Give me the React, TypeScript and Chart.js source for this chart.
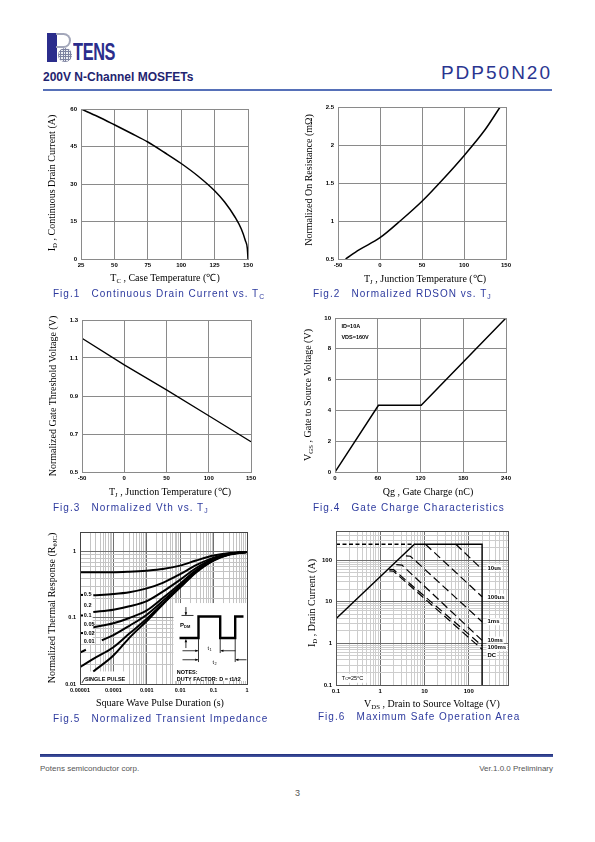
import React, { useEffect, useRef } from 'react';
import { Chart, registerables } from 'chart.js';
Chart.register(...registerables);

// ---------------- data ----------------
// Fig.1 Continuous drain current vs case temperature
const fig1Temp = [25, 37.5, 50, 62.5, 75, 87.5, 100, 112.5, 125, 132.5, 140, 145, 148, 149.5, 150];
const fig1Current = [60, 57, 53.7, 50.3, 46.8, 42.6, 38.2, 33.2, 27.3, 22.8, 17, 12, 7.4, 4.2, 0];

// Fig.2 Normalized RDS(on) vs junction temperature
const fig2Temp = [-41, -25, 0, 25, 50, 75, 100, 125, 143];
const fig2Rds = [0.5, 0.62, 0.78, 1.01, 1.26, 1.55, 1.86, 2.2, 2.5];

// Fig.3 Normalized Vth vs junction temperature
const fig3Temp = [-50, 0, 50, 100, 150];
const fig3Vth = [1.204, 1.064, 0.932, 0.796, 0.659];

// Fig.4 Gate charge
const fig4Qg = [0, 61, 121, 240];
const fig4Vgs = [0, 4.33, 4.33, 10];
const fig4Notes = ['ID=10A', 'VDS=160V'];

// Fig.5 Transient thermal impedance
const fig5T = [1e-5, 2.5e-5, 1e-4, 3e-4, 1e-3, 3e-3, 1e-2, 3e-2, 0.1, 0.3, 1];
const fig5D05 = [0.49, 0.49, 0.49, 0.5, 0.52, 0.55, 0.62, 0.74, 0.88, 0.96, 1];
const fig5D02 = [null, 0.22, 0.23, 0.245, 0.28, 0.34, 0.46, 0.63, 0.82, 0.94, 1];
const fig5D01 = [null, 0.123, 0.133, 0.15, 0.18, 0.25, 0.38, 0.57, 0.79, 0.93, 1];
const fig5D005 = [null, 0.072, 0.083, 0.1, 0.13, 0.2, 0.33, 0.53, 0.77, 0.93, 1];
const fig5TD002 = [1e-5, 1.5e-5, 2e-5, 4.5e-5, 1e-4, 3e-4, 1e-3, 3e-3, 1e-2, 3e-2, 0.1, 0.3, 1];
const fig5D002 = [0.03, 0.033, null, 0.046, 0.055, 0.076, 0.112, 0.18, 0.31, 0.51, 0.76, 0.92, 1];
const fig5D001 = [0.018, 0.024, 0.036, 0.058, 0.097, 0.165, 0.295, 0.5, 0.75, 0.92, 1];
const fig5Single = [null, 0.0155, 0.027, 0.05, 0.09, 0.16, 0.29, 0.49, 0.74, 0.91, 1];
const fig5DutyLabels = ['0.5', '0.2', '0.1', '0.05', '0.02', '0.01'];
const fig5DutyLabelY = [0.223, 0.153, 0.109, 0.081, 0.059, 0.044];

// Fig.6 Safe operating area
const fig6LimitX = [0.1, 5.9, 200, 200];
const fig6LimitY = [3.9, 240, 240, 0.1];
const fig6PulseX = [0.1, 5.9];
const fig6PulseY = [240, 240];
const fig6T10usX = [51, 200];
const fig6T10usY = [240, 60];
const fig6T100usX = [10.5, 200];
const fig6T100usY = [240, 13.2];
const fig6T1msX = [3.8, 4.8, 200];
const fig6T1msY = [126, 124, 3.3];
const fig6T10msX = [2.3, 3.1, 200];
const fig6T10msY = [78, 76, 1.18];
const fig6T100msX = [1.6, 2.0, 200];
const fig6T100msY = [60, 59, 0.88];
const fig6DcX = [1.6, 2.0, 200];
const fig6DcY = [55, 54, 0.72];
const fig6Labels = ['10us', '100us', '1ms', '10ms', '100ms', 'DC'];
const fig6LabelY = [65, 12.8, 3.3, 1.2, 0.8, 0.53];

// ---------------- helpers ----------------
const FONT_SANS = '"Liberation Sans", Arial, Helvetica, sans-serif';
const FONT_SERIF = '"Liberation Serif", "Times New Roman", serif';
const CAPTION_BLUE = '#2d3a9e';
const ML = 40, MT = 8, MR = 14, MB = 22;

function isPow10(v: number) {
  const l = Math.log10(v);
  return Math.abs(l - Math.round(l)) < 1e-6;
}
function fmtPow(v: number) {
  const e = Math.round(Math.log10(v));
  return e >= 0 ? String(Math.pow(10, e)) : Math.pow(10, e).toFixed(-e);
}
function logTicks(min: number, max: number) {
  const out: number[] = [];
  for (let e = Math.floor(Math.log10(min)); e <= Math.ceil(Math.log10(max)); e++) {
    for (let m = 1; m <= 9; m++) {
      const v = +(m * Math.pow(10, e)).toPrecision(6);
      if (v >= min * 0.9999 && v <= max * 1.0001) out.push(v);
    }
  }
  return out;
}

type AxisSpec = { type: 'linear' | 'logarithmic'; min: number; max: number; step?: number };
type SeriesSpec = { xs: number[]; ys: (number | null)[]; width: number; dash?: number[]; smooth?: boolean };
type PlotSpec = {
  plot: [number, number, number, number];
  x: AxisSpec;
  y: AxisSpec;
  series: SeriesSpec[];
  gridMajor: string;
  gridMinor: string;
  gridWidth: number;
  box: string;
  tickSize: number;
  before?: (c: any) => void;
  after?: (c: any) => void;
};

function buildScale(a: AxisSpec, spec: PlotSpec, isX: boolean) {
  const log = a.type === 'logarithmic';
  const s: any = {
    type: a.type,
    min: a.min,
    max: a.max,
    border: { display: false },
    grid: {
      drawTicks: false,
      color: (ctx: any) => (!log || !ctx.tick || isPow10(ctx.tick.value) ? spec.gridMajor : spec.gridMinor),
      lineWidth: spec.gridWidth,
    },
    ticks: {
      autoSkip: false,
      maxRotation: 0,
      minRotation: 0,
      padding: isX ? 3 : 4,
      color: '#000',
      font: { family: FONT_SANS, size: spec.tickSize, weight: 'bold' },
      callback: (v: any) =>
        log ? (isPow10(Number(v)) ? fmtPow(Number(v)) : '') : String(+Number(v).toFixed(3)),
    },
    afterFit: (sc: any) => {
      if (isX) sc.height = MB;
      else sc.width = ML;
    },
  };
  if (!log) s.ticks.stepSize = a.step;
  else
    s.afterBuildTicks = (sc: any) => {
      sc.ticks = logTicks(a.min, a.max).map((v) => ({ value: v }));
    };
  return s;
}

function PlotCanvas({ spec }: { spec: PlotSpec }) {
  const ref = useRef<HTMLCanvasElement>(null);
  const [L, T, R, B] = spec.plot;
  const W = R - L + ML + MR;
  const H = B - T + MT + MB;
  useEffect(() => {
    const chart = new Chart(ref.current as HTMLCanvasElement, {
      type: 'line',
      data: {
        datasets: spec.series.map((s) => ({
          data: s.xs.map((x, i) => ({ x, y: s.ys[i] })) as any,
          borderColor: '#000',
          borderWidth: s.width,
          borderDash: s.dash || [],
          pointRadius: 0,
          fill: false,
          tension: 0,
          cubicInterpolationMode: s.smooth ? 'monotone' : 'default',
          spanGaps: false,
        })),
      },
      options: {
        animation: false,
        responsive: false,
        devicePixelRatio: 1,
        events: [],
        layout: { padding: { top: MT, right: MR, left: 0, bottom: 0 } },
        plugins: { legend: { display: false }, tooltip: { enabled: false } },
        scales: { x: buildScale(spec.x, spec, true), y: buildScale(spec.y, spec, false) },
      } as any,
      plugins: [
        {
          id: 'extras',
          beforeDatasetsDraw(c: any) {
            if (spec.before) spec.before(c);
          },
          afterDatasetsDraw(c: any) {
            if (spec.after) spec.after(c);
          },
          afterDraw(c: any) {
            const { left, top, right, bottom } = c.chartArea;
            const ctx = c.ctx;
            ctx.save();
            ctx.strokeStyle = spec.box;
            ctx.lineWidth = 1;
            ctx.strokeRect(left + 0.5, top + 0.5, right - left, bottom - top);
            ctx.restore();
          },
        },
      ],
    });
    return () => chart.destroy();
  }, []);
  return (
    <canvas
      ref={ref}
      width={W}
      height={H}
      style={{ position: 'absolute', left: L - ML, top: T - MT, width: W, height: H }}
    />
  );
}

function text(ctx: any, s: string, x: number, y: number, size: number, align: string = 'left', bold = true) {
  ctx.save();
  ctx.fillStyle = '#000';
  ctx.font = `${bold ? 'bold ' : ''}${size}px ${FONT_SANS}`;
  ctx.textAlign = align;
  ctx.textBaseline = 'middle';
  ctx.fillText(s, x, y);
  ctx.restore();
}

function arrow(ctx: any, x1: number, y1: number, x2: number, y2: number) {
  ctx.beginPath();
  ctx.moveTo(x1, y1);
  ctx.lineTo(x2, y2);
  ctx.stroke();
  const a = Math.atan2(y2 - y1, x2 - x1);
  ctx.beginPath();
  ctx.moveTo(x2, y2);
  ctx.lineTo(x2 - 3 * Math.cos(a - 0.45), y2 - 3 * Math.sin(a - 0.45));
  ctx.lineTo(x2 - 3 * Math.cos(a + 0.45), y2 - 3 * Math.sin(a + 0.45));
  ctx.closePath();
  ctx.fill();
}

// ---------------- chart specs ----------------
const linGrid = { gridMajor: '#8a8a8a', gridMinor: '#8a8a8a', gridWidth: 1, box: '#8a8a8a', tickSize: 6 };

const spec1: PlotSpec = {
  plot: [81, 109, 248, 259],
  x: { type: 'linear', min: 25, max: 150, step: 25 },
  y: { type: 'linear', min: 0, max: 60, step: 15 },
  series: [{ xs: fig1Temp, ys: fig1Current, width: 1.5, smooth: true }],
  ...linGrid,
};

const spec2: PlotSpec = {
  plot: [338, 107, 506, 259],
  x: { type: 'linear', min: -50, max: 150, step: 50 },
  y: { type: 'linear', min: 0.5, max: 2.5, step: 0.5 },
  series: [{ xs: fig2Temp, ys: fig2Rds, width: 1.5, smooth: true }],
  ...linGrid,
};

const spec3: PlotSpec = {
  plot: [82, 320, 251, 472],
  x: { type: 'linear', min: -50, max: 150, step: 50 },
  y: { type: 'linear', min: 0.5, max: 1.3, step: 0.2 },
  series: [{ xs: fig3Temp, ys: fig3Vth, width: 1.3 }],
  ...linGrid,
};

const spec4: PlotSpec = {
  plot: [335, 318, 506, 472],
  x: { type: 'linear', min: 0, max: 240, step: 60 },
  y: { type: 'linear', min: 0, max: 10, step: 2 },
  series: [{ xs: fig4Qg, ys: fig4Vgs, width: 1.5 }],
  ...linGrid,
  after: (c: any) => {
    const xs = c.scales.x, ys = c.scales.y;
    text(c.ctx, fig4Notes[0], xs.getPixelForValue(9), ys.getPixelForValue(9.45), 5.5);
    text(c.ctx, fig4Notes[1], xs.getPixelForValue(9), ys.getPixelForValue(8.75), 5.5);
  },
};

const spec5: PlotSpec = {
  plot: [80, 532, 247, 684],
  x: { type: 'logarithmic', min: 1e-5, max: 1 },
  y: { type: 'logarithmic', min: 0.01, max: 2 },
  series: [
    { xs: fig5T, ys: fig5D05, width: 2, smooth: true },
    { xs: fig5T, ys: fig5D02, width: 2, smooth: true },
    { xs: fig5T, ys: fig5D01, width: 2, smooth: true },
    { xs: fig5T, ys: fig5D005, width: 2, smooth: true },
    { xs: fig5TD002, ys: fig5D002, width: 2, smooth: true },
    { xs: fig5T, ys: fig5D001, width: 2, smooth: true },
    { xs: fig5T, ys: fig5Single, width: 2, smooth: true },
  ],
  gridMajor: '#6f6f6f',
  gridMinor: '#c4c4c4',
  gridWidth: 1,
  box: '#444',
  tickSize: 5.5,
  before: (c: any) => {
    const ctx = c.ctx;
    const xs = c.scales.x, ys = c.scales.y;
    const { left, right } = c.chartArea;
    ctx.save();
    ctx.fillStyle = '#fff';
    // label box
    const lx2 = xs.getPixelForValue(2.4e-5);
    const ly1 = ys.getPixelForValue(0.26), ly2 = ys.getPixelForValue(0.04);
    ctx.fillRect(left + 1, ly1, lx2 - left - 1, ly2 - ly1);
    // single pulse box
    const sx2 = xs.getPixelForValue(2.4e-4);
    const sy1 = ys.getPixelForValue(0.0155);
    ctx.fillRect(left + 1, sy1, sx2 - left - 1, c.chartArea.bottom - sy1);
    // inset
    const ix = xs.getPixelForValue(0.0063), iy = ys.getPixelForValue(0.168);
    const iy2 = ys.getPixelForValue(0.0111);
    ctx.fillRect(ix, iy, right - ix, iy2 - iy);
    ctx.restore();

    // inset drawing
    ctx.save();
    ctx.strokeStyle = '#000';
    ctx.fillStyle = '#000';
    ctx.lineWidth = 2.4;
    ctx.beginPath();
    const wave = [
      [6, 35], [25, 35], [25, 13.4], [46.7, 13.4], [46.7, 35], [61.7, 35], [61.7, 13.4], [70, 13.4],
    ];
    wave.forEach(([dx, dy], i) => (i ? ctx.lineTo(ix + dx, iy + dy) : ctx.moveTo(ix + dx, iy + dy)));
    ctx.stroke();
    ctx.lineWidth = 0.8;
    // PDM arrows
    ctx.beginPath();
    ctx.moveTo(ix + 8, iy + 12.4);
    ctx.lineTo(ix + 20, iy + 12.4);
    ctx.stroke();
    arrow(ctx, ix + 12.4, iy + 4, ix + 12.4, iy + 12);
    arrow(ctx, ix + 12.4, iy + 45, ix + 12.4, iy + 36.5);
    // extension lines
    ctx.beginPath();
    ctx.moveTo(ix + 25, iy + 36); ctx.lineTo(ix + 25, iy + 59);
    ctx.moveTo(ix + 46.7, iy + 36); ctx.lineTo(ix + 46.7, iy + 50);
    ctx.moveTo(ix + 61.7, iy + 36); ctx.lineTo(ix + 61.7, iy + 59);
    ctx.stroke();
    // t1 / t2 arrows
    arrow(ctx, ix + 9, iy + 47.7, ix + 24.5, iy + 47.7);
    arrow(ctx, ix + 62, iy + 47.7, ix + 47.2, iy + 47.7);
    arrow(ctx, ix + 9, iy + 56.7, ix + 24.5, iy + 56.7);
    arrow(ctx, ix + 73, iy + 56.7, ix + 62.2, iy + 56.7);
    ctx.restore();
    text(ctx, 'P', ix + 6.5, iy + 22, 6);
    text(ctx, 'DM', ix + 10.5, iy + 23.5, 4);
    text(ctx, 't', ix + 34, iy + 45, 5.5, 'left', false);
    text(ctx, '1', ix + 36, iy + 46.5, 3.8, 'left', false);
    text(ctx, 't', ix + 39, iy + 59, 5.5, 'left', false);
    text(ctx, '2', ix + 41, iy + 60.5, 3.8, 'left', false);
    text(ctx, 'NOTES:', ix + 3.3, iy + 69.4, 5.5);
    text(ctx, 'DUTY FACTOR: D = t1/t2', ix + 3.3, iy + 76.5, 5.5);
  },
  after: (c: any) => {
    const ctx = c.ctx;
    const xs = c.scales.x, ys = c.scales.y;
    const { left } = c.chartArea;
    const lx = xs.getPixelForValue(1.3e-5);
    fig5DutyLabels.forEach((s, i) => {
      text(ctx, s, lx, ys.getPixelForValue(fig5DutyLabelY[i]), 5.5);
      if (i % 2 === 0) {
        ctx.fillStyle = '#000';
        ctx.fillRect(left + 1, ys.getPixelForValue(fig5DutyLabelY[i]) - 1, 2, 2);
      }
    });
    text(ctx, 'SINGLE PULSE', xs.getPixelForValue(1.4e-5), ys.getPixelForValue(0.0118), 5.5);
    ctx.save();
    ctx.strokeStyle = '#000';
    ctx.lineWidth = 0.8;
    ctx.beginPath();
    ctx.moveTo(left + 2, ys.getPixelForValue(0.0104));
    ctx.lineTo(left + 5, ys.getPixelForValue(0.0125));
    ctx.stroke();
    ctx.restore();
  },
};

const spec6: PlotSpec = {
  plot: [336, 531, 508, 685],
  x: { type: 'logarithmic', min: 0.1, max: 770 },
  y: { type: 'logarithmic', min: 0.1, max: 500 },
  series: [
    { xs: fig6LimitX, ys: fig6LimitY, width: 1.4 },
    { xs: fig6PulseX, ys: fig6PulseY, width: 1.4, dash: [4, 2.5] },
    { xs: fig6T10usX, ys: fig6T10usY, width: 1.2, dash: [8, 4] },
    { xs: fig6T100usX, ys: fig6T100usY, width: 1.2, dash: [8, 4] },
    { xs: fig6T1msX, ys: fig6T1msY, width: 1.2, dash: [8, 4] },
    { xs: fig6T10msX, ys: fig6T10msY, width: 1.2, dash: [8, 4] },
    { xs: fig6T100msX, ys: fig6T100msY, width: 1.2, dash: [8, 4] },
    { xs: fig6DcX, ys: fig6DcY, width: 1.2, dash: [8, 4] },
  ],
  gridMajor: '#6f6f6f',
  gridMinor: '#cdcdcd',
  gridWidth: 1,
  box: '#555',
  tickSize: 6,
  after: (c: any) => {
    const ctx = c.ctx;
    const xs = c.scales.x, ys = c.scales.y;
    const lx = xs.getPixelForValue(265);
    fig6Labels.forEach((s, i) => {
      const y = ys.getPixelForValue(fig6LabelY[i]);
      ctx.save();
      ctx.font = `bold 6px ${FONT_SANS}`;
      const w = ctx.measureText(s).width;
      ctx.fillStyle = '#fff';
      ctx.fillRect(lx - 1, y - 3.5, w + 2, 7);
      ctx.restore();
      text(ctx, s, lx, y, 6);
    });
    const tx = xs.getPixelForValue(0.135), ty = ys.getPixelForValue(0.145);
    ctx.save();
    ctx.fillStyle = '#fff';
    ctx.fillRect(tx - 2, ty - 4.5, 27, 9);
    ctx.restore();
    text(ctx, 'T', tx, ty, 5.5, 'left', false);
    text(ctx, 'C', tx + 3.4, ty + 1, 4, 'left', false);
    text(ctx, '=25°C', tx + 6, ty, 5.5, 'left', false);
  },
};

// ---------------- HTML text pieces ----------------
const Sub = ({ children }: { children: any }) => (
  <span style={{ fontSize: '0.68em', verticalAlign: '-0.25em', lineHeight: 0 }}>{children}</span>
);

function XTitle({ cx, cy, children }: { cx: number; cy: number; children: any }) {
  return (
    <div
      style={{
        position: 'absolute',
        left: cx - 150,
        top: cy - 7,
        width: 300,
        textAlign: 'center',
        font: `10px ${FONT_SERIF}`,
        lineHeight: '14px',
        whiteSpace: 'nowrap',
        color: '#000',
      }}
    >
      {children}
    </div>
  );
}

function YTitle({ cx, cy, children }: { cx: number; cy: number; children: any }) {
  return (
    <div
      style={{
        position: 'absolute',
        left: cx,
        top: cy,
        transform: 'translate(-50%, -50%) rotate(-90deg)',
        font: `10px ${FONT_SERIF}`,
        lineHeight: '14px',
        whiteSpace: 'nowrap',
        color: '#000',
      }}
    >
      {children}
    </div>
  );
}

function Caption({ x, cy, children }: { x: number; cy: number; children: any }) {
  return (
    <div
      style={{
        position: 'absolute',
        left: x,
        top: cy - 7,
        font: `10px ${FONT_SANS}`,
        lineHeight: '14px',
        letterSpacing: '1px',
        whiteSpace: 'pre',
        color: CAPTION_BLUE,
      }}
    >
      {children}
    </div>
  );
}

function Logo() {
  return (
    <div style={{ position: 'absolute', left: 0, top: 0 }}>
      <div style={{ position: 'absolute', left: 47, top: 33, width: 10, height: 29, background: '#2b2d8c' }} />
      <div
        style={{
          position: 'absolute',
          left: 56,
          top: 33,
          width: 15,
          height: 15,
          border: '2px solid #a3a7ba',
          borderLeft: 'none',
          borderRadius: '0 8px 8px 0',
          boxSizing: 'border-box',
        }}
      />
      <div
        style={{
          position: 'absolute',
          left: 58,
          top: 48,
          width: 14,
          height: 14,
          borderRadius: '50%',
          background:
            'repeating-linear-gradient(0deg, #7d82a0 0 1px, transparent 1px 2.4px), repeating-linear-gradient(90deg, #7d82a0 0 1px, #eceef4 1px 2.4px)',
        }}
      />
      <div
        style={{
          position: 'absolute',
          left: 73,
          top: 40,
          font: `bold 24px ${FONT_SANS}`,
          lineHeight: '24px',
          color: '#2b2d8c',
          transform: 'scaleX(0.68)',
          transformOrigin: '0 0',
          letterSpacing: '-0.5px',
        }}
      >
        TENS
      </div>
    </div>
  );
}

export default function App() {
  return (
    <div style={{ position: 'absolute', left: 0, top: 0, width: 595, height: 842, background: '#fff', overflow: 'hidden' }}>
      <Logo />
      <div
        style={{
          position: 'absolute',
          left: 43,
          top: 70,
          font: `bold 12px ${FONT_SANS}`,
          lineHeight: '14px',
          color: '#1f2470',
          whiteSpace: 'nowrap',
        }}
      >
        200V N-Channel MOSFETs
      </div>
      <div
        style={{
          position: 'absolute',
          right: 43,
          top: 62,
          font: `19px ${FONT_SANS}`,
          lineHeight: '22px',
          letterSpacing: '2px',
          color: '#2a3590',
          whiteSpace: 'nowrap',
        }}
      >
        PDP50N20
      </div>
      <div style={{ position: 'absolute', left: 43, top: 89, width: 509, height: 2, background: '#5670b8' }} />

      <PlotCanvas spec={spec1} />
      <PlotCanvas spec={spec2} />
      <PlotCanvas spec={spec3} />
      <PlotCanvas spec={spec4} />
      <PlotCanvas spec={spec5} />
      <PlotCanvas spec={spec6} />

      <XTitle cx={165} cy={278}>T<Sub>C</Sub> , Case Temperature (℃)</XTitle>
      <YTitle cx={52} cy={183}>I<Sub>D</Sub> , Continuous Drain Current (A)</YTitle>
      <Caption x={53} cy={294}>Fig.1   Continuous Drain Current vs. T<Sub>C</Sub></Caption>

      <XTitle cx={425} cy={279}>T<Sub>J</Sub> , Junction Temperature (℃)</XTitle>
      <YTitle cx={309} cy={180}>Normalized On Resistance (mΩ)</YTitle>
      <Caption x={313} cy={294}>Fig.2   Normalized RDSON vs. T<Sub>J</Sub></Caption>

      <XTitle cx={170} cy={492}>T<Sub>J</Sub> , Junction Temperature (℃)</XTitle>
      <YTitle cx={53} cy={396}>Normalized Gate Threshold Voltage (V)</YTitle>
      <Caption x={53} cy={508}>Fig.3   Normalized Vth vs. T<Sub>J</Sub></Caption>

      <XTitle cx={428} cy={492}>Qg , Gate Charge (nC)</XTitle>
      <YTitle cx={308} cy={395}>V<Sub>GS</Sub> , Gate to Source Voltage (V)</YTitle>
      <Caption x={313} cy={508}>Fig.4   Gate Charge Characteristics</Caption>

      <XTitle cx={160} cy={703}>Square Wave Pulse Duration (s)</XTitle>
      <YTitle cx={52} cy={608}>Normalized Thermal Response (R<Sub>θJC</Sub>)</YTitle>
      <Caption x={53} cy={719}>Fig.5   Normalized Transient Impedance</Caption>

      <XTitle cx={432} cy={704}>V<Sub>DS</Sub> , Drain to Source Voltage (V)</XTitle>
      <YTitle cx={312} cy={603}>I<Sub>D</Sub> , Drain Current (A)</YTitle>
      <Caption x={318} cy={717}>Fig.6   Maximum Safe Operation Area</Caption>

      <div style={{ position: 'absolute', left: 40, top: 754, width: 513, height: 3, background: 'linear-gradient(#1f2d7a, #4a5ca8)' }} />
      <div style={{ position: 'absolute', left: 40, top: 764, font: `8px ${FONT_SANS}`, lineHeight: '10px', color: '#555' }}>
        Potens semiconductor corp.
      </div>
      <div style={{ position: 'absolute', right: 42, top: 764, font: `8px ${FONT_SANS}`, lineHeight: '10px', color: '#555' }}>
        Ver.1.0.0 Preliminary
      </div>
      <div style={{ position: 'absolute', left: 0, width: 595, top: 788, textAlign: 'center', font: `9px ${FONT_SANS}`, lineHeight: '10px', color: '#555' }}>
        3
      </div>
    </div>
  );
}
